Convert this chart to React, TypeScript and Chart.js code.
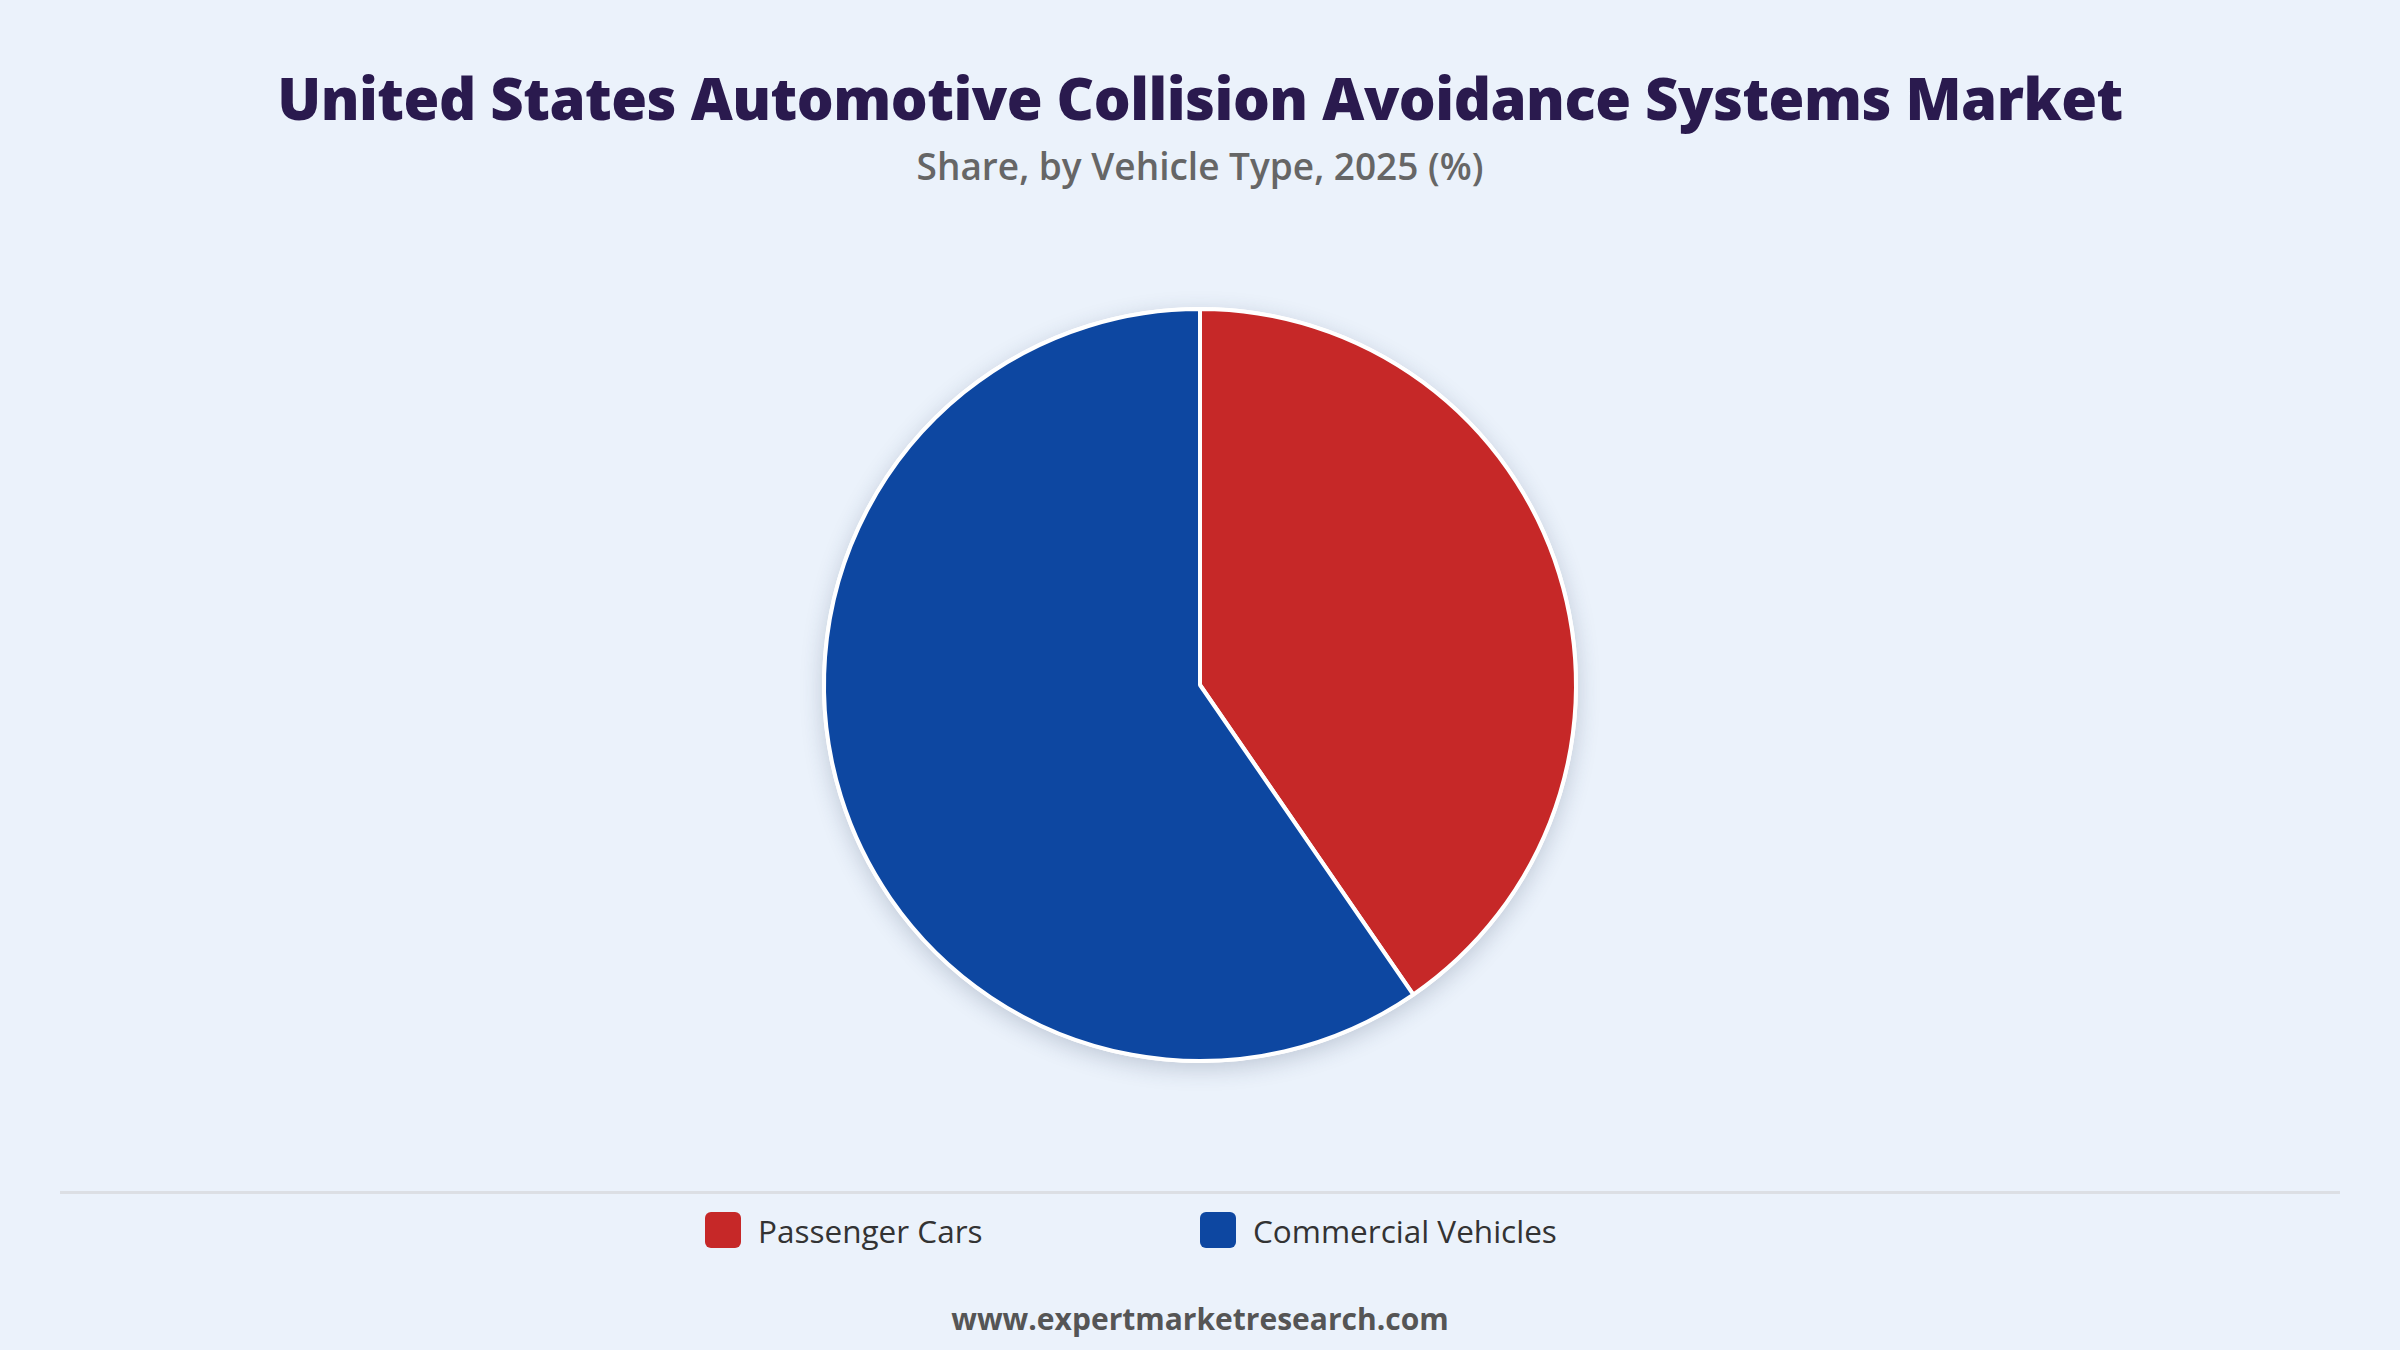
import React, { useEffect, useRef } from "react";
import { Chart, registerables } from "chart.js";

Chart.register(...registerables);

const categories = ["Passenger Cars", "Commercial Vehicles"];
const shares = [40.4, 59.6];
const colors = ["#C62828", "#0D47A1"];

const TITLE = "United States Automotive Collision Avoidance Systems Market";
const SUBTITLE = "Share, by Vehicle Type, 2025 (%)";
const FOOTER = "www.expertmarketresearch.com";

const BG = "#EBF2FB";

const shadowPlugin = {
  id: "pieShadow",
  beforeDatasetsDraw(chart: any) {
    const meta = chart.getDatasetMeta(0);
    if (!meta || !meta.data.length) return;
    const arc = meta.data[0];
    const ctx = chart.ctx;
    ctx.save();
    ctx.shadowColor = "rgba(40, 60, 90, 0.22)";
    ctx.shadowBlur = 22;
    ctx.shadowOffsetX = 0;
    ctx.shadowOffsetY = 6;
    ctx.beginPath();
    ctx.arc(arc.x, arc.y, arc.outerRadius + 2, 0, Math.PI * 2);
    ctx.fillStyle = "#ffffff";
    ctx.fill();
    ctx.restore();
  },
};

export default function App() {
  const canvasRef = useRef<HTMLCanvasElement | null>(null);

  useEffect(() => {
    document.body.style.margin = "0";
    const canvas = canvasRef.current;
    if (!canvas) return;
    const chart = new Chart(canvas, {
      type: "pie",
      data: {
        labels: categories,
        datasets: [
          {
            data: shares,
            backgroundColor: colors,
            borderColor: "#ffffff",
            borderWidth: 4,
            hoverOffset: 0,
          },
        ],
      },
      options: {
        animation: false,
        responsive: false,
        maintainAspectRatio: false,
        layout: { padding: 72 },
        plugins: {
          legend: { display: false },
          tooltip: { enabled: false },
          title: { display: false },
        },
      },
      plugins: [shadowPlugin],
    });
    return () => chart.destroy();
  }, []);

  return (
    <div
      style={{
        position: "fixed",
        left: 0,
        top: 0,
        width: 2400,
        height: 1350,
        background: BG,
        overflow: "hidden",
        fontFamily: "'Open Sans', 'Noto Sans', sans-serif",
      }}
    >
      <div
        style={{
          position: "absolute",
          left: 0,
          width: 2400,
          top: 58,
          textAlign: "center",
          fontSize: 58,
          fontWeight: 800,
          color: "#2A1A4E",
          lineHeight: "80px",
          letterSpacing: -0.5,
        }}
      >
        {TITLE}
      </div>
      <div
        style={{
          position: "absolute",
          left: 0,
          width: 2400,
          top: 142,
          textAlign: "center",
          fontSize: 37,
          fontWeight: 600,
          color: "#666666",
          lineHeight: "48px",
        }}
      >
        {SUBTITLE}
      </div>
      <canvas
        ref={canvasRef}
        width={900}
        height={900}
        style={{ position: "absolute", left: 750, top: 235, width: 900, height: 900 }}
      />
      <div
        style={{
          position: "absolute",
          left: 60,
          width: 2280,
          top: 1191,
          height: 3,
          background: "#DCDFE4",
        }}
      />
      <div style={{ position: "absolute", left: 705, top: 1210, display: "flex" }}>
        {categories.map((c, i) => (
          <div key={c} style={{ display: "flex", alignItems: "center", width: 495, height: 40 }}>
            <div
              style={{
                width: 36,
                height: 36,
                borderRadius: 6,
                background: colors[i],
                marginRight: 17,
              }}
            />
            <span style={{ fontSize: 31.5, color: "#333333", fontWeight: 500 }}>{c}</span>
          </div>
        ))}
      </div>
      <div
        style={{
          position: "absolute",
          left: 0,
          width: 2400,
          top: 1298,
          textAlign: "center",
          fontSize: 30,
          fontWeight: 700,
          color: "#555555",
          lineHeight: "42px",
        }}
      >
        {FOOTER}
      </div>
    </div>
  );
}
